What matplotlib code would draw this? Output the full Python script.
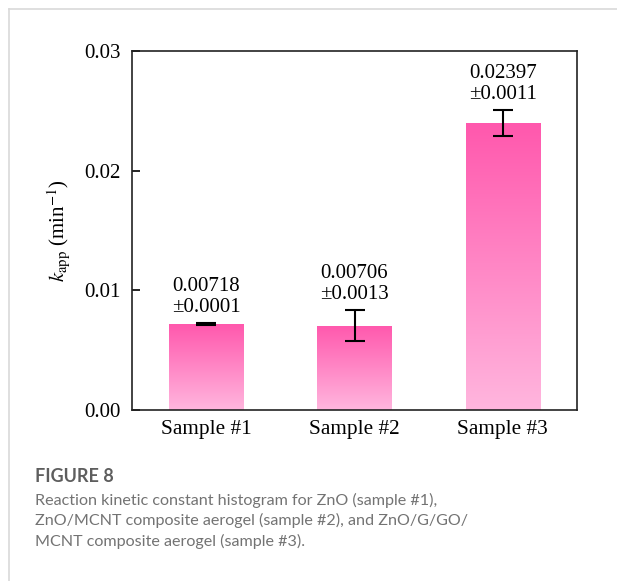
import matplotlib
matplotlib.use('Agg')
import matplotlib.pyplot as plt
import numpy as np
from matplotlib.colors import LinearSegmentedColormap
from matplotlib.lines import Line2D

samples = ['Sample #1', 'Sample #2', 'Sample #3']
k_app = [0.00718, 0.00706, 0.02397]
k_err = [0.0001, 0.0013, 0.0011]
value_labels = ['0.00718\n\u00b10.0001', '0.00706\n\u00b10.0013', '0.02397\n\u00b10.0011']
y_ticks = [0.00, 0.01, 0.02, 0.03]

plt.rcParams['font.family'] = ['Liberation Serif', 'DejaVu Serif']
plt.rcParams['mathtext.fontset'] = 'stix'

fig = plt.figure(figsize=(6.17, 5.81), dpi=100)
ax = fig.add_axes([132 / 617, 1 - 410 / 581, 445 / 617, 359 / 581])

x = np.arange(len(samples))
bars = ax.bar(x, k_app, width=0.5, color='none', edgecolor='none', zorder=2)

# vertical pink gradient inside each bar
pink = LinearSegmentedColormap.from_list('pink', ['#ffb6de', '#ff58ad'])
grad = np.linspace(0, 1, 256).reshape(-1, 1)
for bar in bars:
    x0, y0 = bar.get_x(), bar.get_y()
    w, h = bar.get_width(), bar.get_height()
    im = ax.imshow(grad, cmap=pink, aspect='auto', origin='lower',
                   extent=[x0, x0 + w, y0, y0 + h], zorder=2)
    im.set_clip_path(bar)

ax.errorbar(x, k_app, yerr=k_err, fmt='none', ecolor='black',
            elinewidth=1.5, capsize=7, capthick=1.5, zorder=3)

for xi, v, e, lab in zip(x, k_app, k_err, value_labels):
    ax.annotate(lab, (xi, v + e), xytext=(0, 4), textcoords='offset points',
                ha='center', va='bottom', fontsize=15, linespacing=1.2,
                multialignment='center')

ax.set_xlim(-0.5, 2.5)
ax.set_ylim(0, 0.03)
ax.set_xticks(x)
ax.set_xticklabels(samples, fontsize=15.3)
ax.set_yticks(y_ticks)
ax.set_yticklabels(['%.2f' % t for t in y_ticks], fontsize=15)
ax.tick_params(axis='y', direction='in', length=6, width=1.2, pad=8)
ax.tick_params(axis='x', length=0, pad=7)
for s in ax.spines.values():
    s.set_linewidth(1.2)
    s.set_color('#222222')
ax.set_ylabel(r'$\mathit{k}_{\mathrm{app}}$ (min$^{\mathrm{-1}}$)', fontsize=15, labelpad=9)

# card border
fig.add_artist(Line2D([9 / 617, 1], [1 - 9 / 581, 1 - 9 / 581], color='#d9d9d9', lw=1.2))
fig.add_artist(Line2D([9 / 617, 9 / 617], [0, 1 - 9 / 581], color='#d9d9d9', lw=1.2))

# caption
fig.text(35 / 617, 1 - 477 / 581, 'FIGURE 8', family='Lato', weight='bold',
         fontsize=13, color='#5e5e5e', va='center')
caption = ['Reaction kinetic constant histogram for ZnO (sample #1),',
           'ZnO/MCNT composite aerogel (sample #2), and ZnO/G/GO/',
           'MCNT composite aerogel (sample #3).']
for i, line in enumerate(caption):
    fig.text(35 / 617, 1 - (500 + 20.5 * i) / 581, line, family='Lato',
             fontsize=11.6, color='#737373', va='center')

fig.savefig('out.png', dpi=100)
